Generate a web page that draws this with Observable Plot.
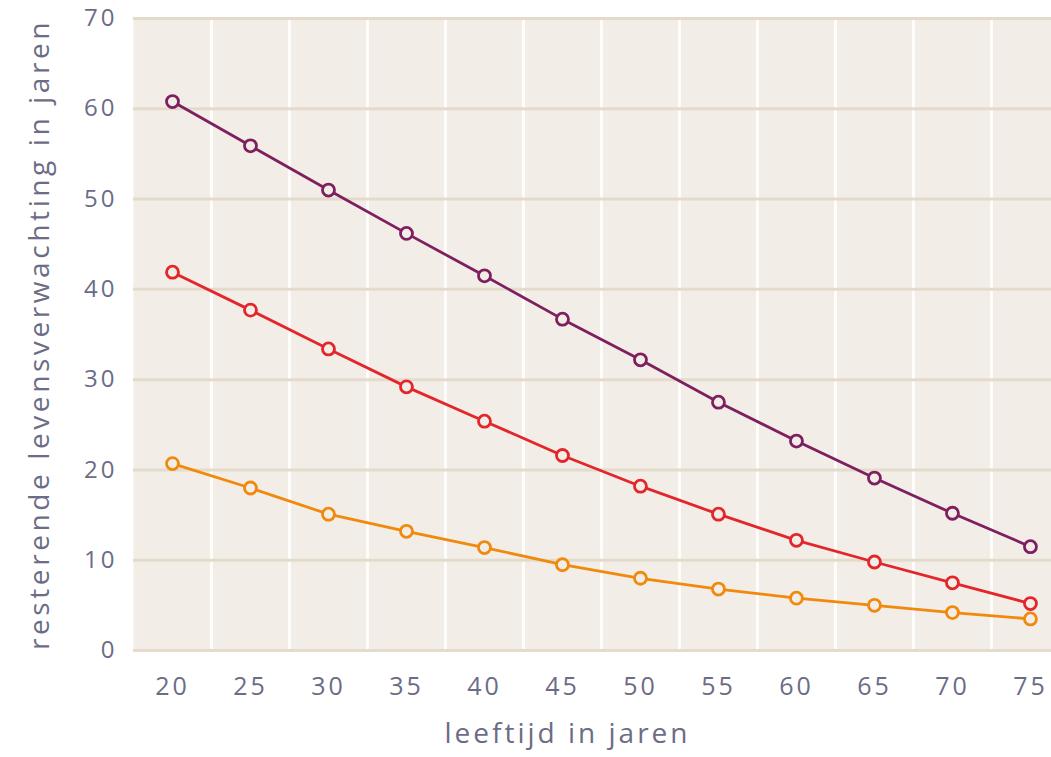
<!DOCTYPE html>
<html>
<head>
<meta charset="utf-8">
<script src="https://cdn.jsdelivr.net/npm/d3@7"></script>
<script src="https://cdn.jsdelivr.net/npm/@observablehq/plot@0.6"></script>
<style>
  html, body { margin: 0; padding: 0; background: #ffffff; }
  #chart svg { display: block; }
</style>
</head>
<body>
<div id="chart"></div>
<script>
const ages = [20, 25, 30, 35, 40, 45, 50, 55, 60, 65, 70, 75];
const seriesNames = ["paars", "rood", "oranje"];
const purpleValues = [60.8, 55.9, 51.0, 46.2, 41.5, 36.7, 32.2, 27.5, 23.2, 19.1, 15.2, 11.5];
const redValues = [41.9, 37.7, 33.4, 29.2, 25.4, 21.6, 18.2, 15.1, 12.2, 9.8, 7.5, 5.2];
const orangeValues = [20.7, 18.0, 15.1, 13.2, 11.4, 9.5, 8.0, 6.8, 5.8, 5.0, 4.2, 3.5];
const seriesColors = ["#7e1f5f", "#e3262b", "#f0890c"];
const yTicks = [0, 10, 20, 30, 40, 50, 60, 70];
const xGrid = [22.5, 27.5, 32.5, 37.5, 42.5, 47.5, 52.5, 57.5, 62.5, 67.5, 72.5];
const xTitle = "leeftijd in jaren";
const yTitle = "resterende levensverwachting in jaren";

const allValues = [purpleValues, redValues, orangeValues];
const data = [];
seriesNames.forEach((s, i) => {
  ages.forEach((a, j) => data.push({series: s, age: a, value: allValues[i][j]}));
});

const textColor = "#6c6c86";

const chart = Plot.plot({
  width: 1051,
  height: 757,
  marginLeft: 133,
  marginRight: 0,
  marginTop: 18,
  marginBottom: 107,
  style: {fontFamily: "Open Sans, Lato, sans-serif", background: "#ffffff", color: textColor},
  x: {domain: [17.5, 76.35], ticks: ages},
  y: {domain: [0, 70], ticks: yTicks},
  color: {domain: seriesNames, range: seriesColors},
  marks: [
    Plot.frame({fill: "#f2ede6", stroke: null}),
    Plot.ruleX(xGrid, {stroke: "#ffffff", strokeWidth: 3, strokeOpacity: 0.85}),
    Plot.ruleY(yTicks, {stroke: "#e4dbcc", strokeWidth: 3}),
    Plot.axisX({ticks: ages, tickSize: 0, tickPadding: 27, fontSize: 25, label: null, fill: textColor}),
    Plot.axisY({ticks: yTicks, tickSize: 0, tickPadding: 16, fontSize: 24, label: null, fill: textColor}),
    Plot.line(data, {x: "age", y: "value", z: "series", stroke: "series", strokeWidth: 2.8}),
    Plot.dot(data, {x: "age", y: "value", stroke: "series", fill: "#f2ede6", r: 6, strokeWidth: 2.8}),
    Plot.text([xTitle], {frameAnchor: "bottom", dx: -25, dy: 92, fontSize: 28, fill: textColor, ariaLabel: () => "x-title"}),
    Plot.text([yTitle], {frameAnchor: "left", textAnchor: "middle", rotate: -90, dx: -93, dy: 0, fontSize: 28, fill: textColor, ariaLabel: () => "y-title"})
  ]
});
const sel = d3.select(chart);
sel.selectAll("g[aria-label='x-axis tick label'] text").style("letter-spacing", "3px");
sel.selectAll("g[aria-label='y-axis tick label'] text").style("letter-spacing", "3px");
sel.selectAll("text").filter(function() { return this.textContent === xTitle; }).style("letter-spacing", "3px");
sel.selectAll("text").filter(function() { return this.textContent === yTitle; }).style("letter-spacing", "3.6px");
document.getElementById("chart").appendChild(chart);
</script>
</body>
</html>
